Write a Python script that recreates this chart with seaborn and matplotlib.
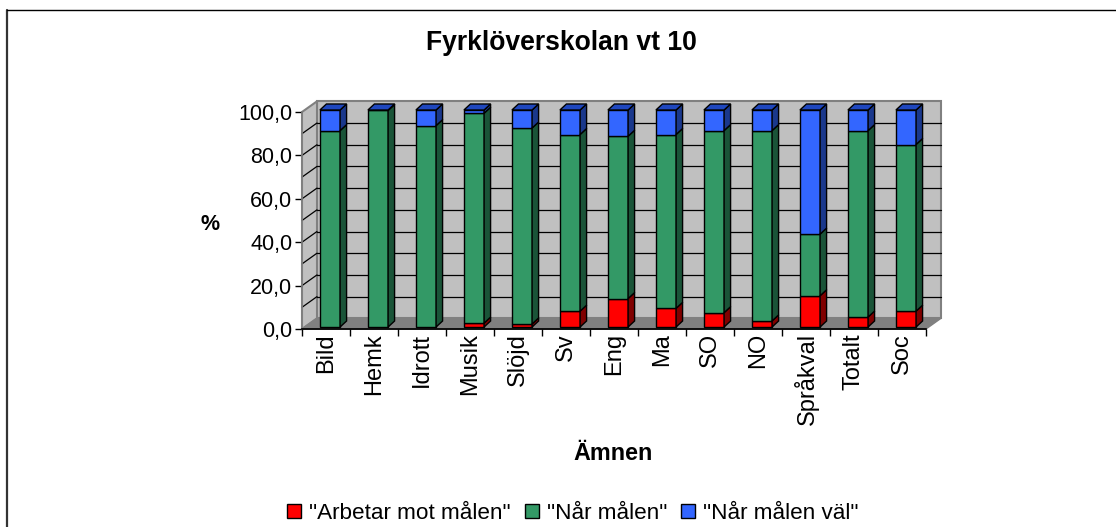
import numpy as np
import seaborn as sns
import matplotlib
matplotlib.use("Agg")
import matplotlib.pyplot as plt
from matplotlib.lines import Line2D
from matplotlib.patches import Polygon, Rectangle
from matplotlib.transforms import Affine2D, IdentityTransform

amnen = ["Bild", "Hemk", "Idrott", "Musik", "Slöjd", "Sv", "Eng", "Ma", "SO", "NO", "Språkval", "Totalt", "Soc"]
arbetar = [0.0, 0.0, 0.0, 1.8, 1.4, 7.3, 13.1, 8.6, 6.6, 2.8, 14.4, 4.6, 7.3]
nar = [90.5, 99.8, 92.8, 96.7, 90.3, 81.4, 74.8, 80.1, 83.9, 87.7, 28.4, 85.9, 76.8]
nar_val = [9.5, 0.2, 7.2, 1.5, 8.3, 11.3, 12.1, 11.3, 9.5, 9.5, 57.2, 9.5, 15.9]
y_ticks = [0, 20, 40, 60, 80, 100]
y_labels = ["0,0", "20,0", "40,0", "60,0", "80,0", "100,0"]

W, H = 1116, 527
sns.set_theme(style="white")
plt.rcParams["font.family"] = ["Liberation Sans", "DejaVu Sans"]

fig = plt.figure(figsize=(W / 100, H / 100), dpi=100)
ax = fig.add_axes([302 / W, 1 - 329 / H, 624 / W, 217 / H])
ax.patch.set_alpha(0)

# staplarna, en serie i taget
under = np.zeros(len(amnen))
for serie, farg, namn in [(arbetar, "#FF0000", '"Arbetar mot målen"'),
                          (nar, "#339966", '"Når målen"'),
                          (nar_val, "#3366FF", '"Når målen väl"')]:
    sns.barplot(x=amnen, y=serie, bottom=under, color=farg, saturation=1, width=0.42,
                edgecolor="black", linewidth=1, label=namn, ax=ax)
    under = under + np.array(serie)

ax.set_xlim(-0.5, len(amnen) - 0.5)
ax.set_ylim(0, 100)

# legenden forst, annars forsvinner den roda rutan (forsta stapeln har hojd 0)
ax.legend(loc="center", bbox_to_anchor=(573 / W, 1 - 513.5 / H), bbox_transform=fig.transFigure, ncol=3, frameon=False,
          fontsize=16.2, handlelength=0.62, handleheight=0.62, handletextpad=0.36, columnspacing=0.62,
          labelcolor="black", borderpad=0)

# 3D-kansla: vaggar och golv ritas forskjutna bakat
dx, dy = 15, 10.7
bak = ax.transData + Affine2D().translate(dx, dy)
(x0, y0), (x1, y1) = ax.transData.transform([(-0.5, 0), (len(amnen) - 0.5, 100)])
ax.add_patch(Rectangle((-0.5, 0), len(amnen), 100, transform=bak, fc="#C0C0C0", ec="#808080",
                       lw=1.5, zorder=0.1, clip_on=False))
ax.add_patch(Polygon([(x0, y0), (x0 + dx, y0 + dy), (x0 + dx, y1 + dy), (x0, y1)], transform=IdentityTransform(),
                     fc="#C0C0C0", ec="#808080", lw=1.5, zorder=0.1, clip_on=False))
ax.add_patch(Polygon([(x0, y0), (x1, y0), (x1 + dx, y0 + dy), (x0 + dx, y0 + dy)], transform=IdentityTransform(),
                     fc="#808080", ec="#808080", lw=1, zorder=0.2, clip_on=False))
for v in range(10, 100, 10):
    ypx = ax.transData.transform((0, v))[1]
    ax.add_line(Line2D([x0 + dx, x1 + dx], [ypx + dy, ypx + dy], transform=IdentityTransform(), color="black",
                       lw=0.9, zorder=0.3, clip_on=False))
    ax.add_line(Line2D([x0, x0 + dx], [ypx, ypx + dy], transform=IdentityTransform(), color="black",
                       lw=0.9, zorder=0.3, clip_on=False))

# sidor och tak pa staplarna
bar_dx, bar_dy = 6.5, 6
skift = ax.transData + Affine2D().translate(4, 2)
n = len(amnen)
for bar in list(ax.patches):
    if not isinstance(bar, Rectangle) or bar.get_zorder() < 0.5:
        continue
    if bar.get_height() <= 0:
        bar.set_visible(False)
        continue
    bar.set_transform(skift)
    bar.set_clip_on(False)
    xa, xb = bar.get_x(), bar.get_x() + bar.get_width()
    ya, yb = bar.get_y(), bar.get_y() + bar.get_height()
    (pa, qa), (pb, qb) = skift.transform([(xa, ya), (xb, yb)])
    r, g, b, _ = bar.get_facecolor()
    ax.add_patch(Polygon([(pb, qa), (pb + bar_dx, qa + bar_dy), (pb + bar_dx, qb + bar_dy), (pb, qb)],
                         transform=IdentityTransform(), fc=(r * 0.5, g * 0.55, b * 0.55), ec="black", lw=1,
                         zorder=1, clip_on=False))
    if yb > 99.9:
        ax.add_patch(Polygon([(pa, qb), (pb, qb), (pb + bar_dx, qb + bar_dy), (pa + bar_dx, qb + bar_dy)],
                             transform=IdentityTransform(), fc=(r * 0.6, g * 0.7, b * 0.75), ec="black", lw=1,
                             zorder=1, clip_on=False))

# axlar
sns.despine(ax=ax, top=True, right=True)
ax.spines["bottom"].set_color("black")
ax.spines["left"].set_color("#808080")
ax.set_yticks(y_ticks)
ax.set_yticklabels(y_labels, fontsize=15.5, color="black")
ax.tick_params(axis="y", left=True, length=5, width=1, color="black", pad=2)
ax.set_xticks(range(n))
ax.set_xticklabels(amnen, rotation=90, fontsize=17, color="black")
ax.set_xticks(np.arange(n + 1) - 0.5, minor=True)
ax.tick_params(axis="x", which="major", bottom=False, pad=-3)
ax.tick_params(axis="x", which="minor", bottom=True, length=5, width=1, color="black")
ax.set_xlabel("")
ax.set_ylabel("")

fig.text(561 / W, 1 - 42.5 / H, "Fyrklöverskolan vt 10", ha="center", va="center", fontsize=19.1, fontweight="bold", color="black")
fig.text(613 / W, 1 - 453.5 / H, "Ämnen", ha="center", va="center", fontsize=16.8, fontweight="bold", color="black")
fig.text(210 / W, 1 - 224 / H, "%", ha="center", va="center", fontsize=15.5, fontweight="bold", color="black")

# ram runt diagrammet (bara vanster och overkant syns)
fig.add_artist(Line2D([6.5 / W, 6.5 / W], [0, 1 - 9.5 / H], color="#333333", lw=1.6))
fig.add_artist(Line2D([6.5 / W, 1], [1 - 9.5 / H, 1 - 9.5 / H], color="black", lw=1.0))

fig.savefig("out.png", dpi=100)
